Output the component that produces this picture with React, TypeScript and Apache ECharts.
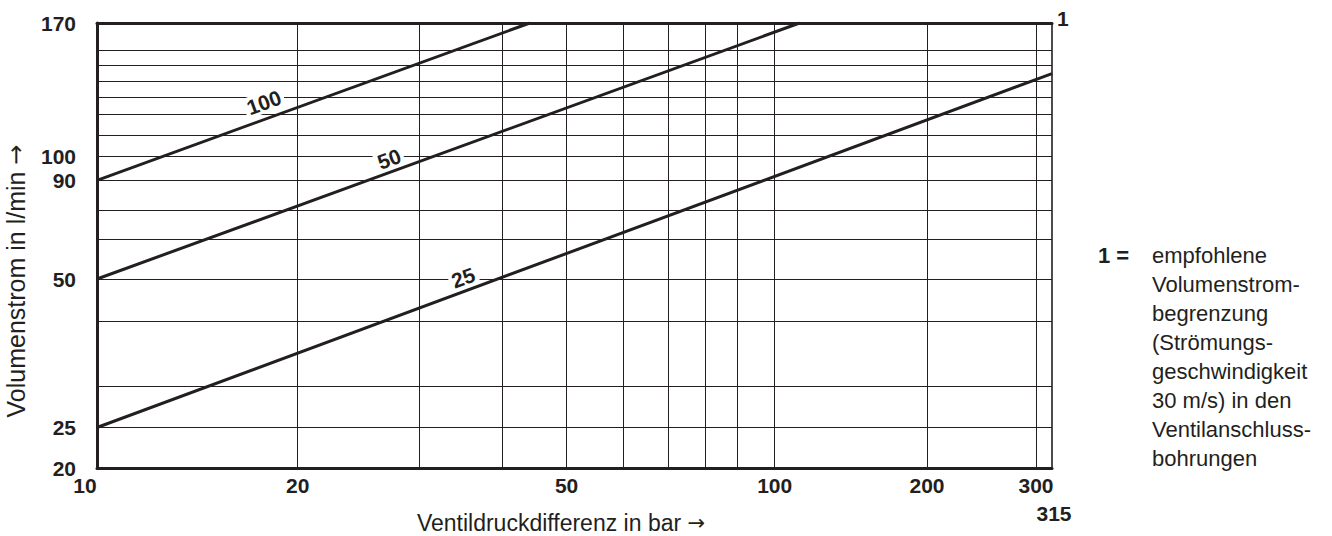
import { useEffect, useRef } from "react";
import * as echarts from "echarts";

// Scale definition of the (irregular) logarithmic grid of the diagram
const xGridValues = [10, 20, 30, 40, 50, 60, 70, 80, 90, 100, 200, 300, 315];
const xGridUnits = [0, 200.7, 322.7, 405.5, 469.6, 526.1, 571.2, 608.5, 640, 677.7, 830, 939, 955];
const yGridValues = [20, 25, 30, 40, 50, 60, 70, 90, 100, 110, 120, 130, 140, 150, 160, 170];
const yGridUnits = [0, 40.5, 82, 146.5, 189, 228.5, 258, 287.7, 311.7, 332.7, 354, 370.3, 386.3, 402.3, 418, 445];

// Tick labels
const xTickLabels = [10, 20, 50, 100, 200, 300];
const xEndLabel = 315;
const yTickLabels = [20, 25, 50, 90, 100, 170];

// Curves (nominal size): pressure difference [bar] and flow [l/min] at both ends
const curveNames = ["25", "50", "100"];
const curveDp = [
  [10, 315],
  [10, 112],
  [10, 44],
];
const curveQ = [
  [25, 145],
  [50, 170],
  [90, 170],
];
// where the curve names sit
const curveLabelDp = [34.9, 27.1, 17.8];
const curveLabelQ = [50.3, 98.8, 127];

const legendKey = "1 =";
const legendText = [
  "empfohlene",
  "Volumenstrom-",
  "begrenzung",
  "(Strömungs-",
  "geschwindigkeit",
  "30 m/s) in den",
  "Ventilanschluss-",
  "bohrungen",
];

function warp(v: number, vals: number[], units: number[]): number {
  const lv = Math.log10(v);
  for (let i = 0; i < vals.length - 1; i++) {
    const a = Math.log10(vals[i]);
    const b = Math.log10(vals[i + 1]);
    if (lv <= b || i === vals.length - 2) {
      return units[i] + ((lv - a) / (b - a)) * (units[i + 1] - units[i]);
    }
  }
  return units[units.length - 1];
}
const wx = (v: number) => warp(v, xGridValues, xGridUnits);
const wy = (v: number) => warp(v, yGridValues, yGridUnits);

function nearestLabel(val: number, units: number[], labels: number[]): number {
  let best = 0;
  for (let i = 0; i < units.length; i++) {
    if (Math.abs(units[i] - val) < Math.abs(units[best] - val)) best = i;
  }
  return labels[best];
}

const ink = "#231f20";
const numFont = "'Liberation Sans Narrow', 'Liberation Sans', Arial, sans-serif";
const textFont = "'Liberation Sans', Arial, sans-serif";
const arrowRich = { arr: { fontFamily: "'DejaVu Sans', sans-serif", fontSize: 21, fill: ink } };

export default function App() {
  const ref = useRef<HTMLDivElement>(null);

  useEffect(() => {
    if (!ref.current) return;
    const chart = echarts.init(ref.current, undefined, { renderer: "svg" });

    const xLabelUnits = xTickLabels.map(wx);
    const yLabelUnits = yTickLabels.map(wy);
    const xMax = xGridUnits[xGridUnits.length - 1];
    const yMax = yGridUnits[yGridUnits.length - 1];

    const numStyle = {
      color: ink,
      fontFamily: numFont,
      fontWeight: "bold" as const,
      fontSize: 21,
    };

    const option: any = {
      animation: false,
      grid: {
        left: 97,
        right: 280,
        top: 23,
        bottom: 68,
        containLabel: false,
        outerBoundsMode: "none",
      },
      xAxis: [
        {
          type: "value",
          min: 0,
          max: xMax,
          position: "bottom",
          axisLine: { show: true, onZero: false, lineStyle: { color: ink, width: 3 } },
          axisTick: { show: false },
          splitLine: { show: false },
          axisLabel: {
            ...numStyle,
            customValues: xLabelUnits,
            showMinLabel: true,
            showMaxLabel: true,
            margin: 6,
            lineHeight: 23,
            verticalAlign: "top",
            formatter: (v: number) => {
              const lab = nearestLabel(v, xLabelUnits, xTickLabels);
              if (lab === 10) return "{first|10}";
              return String(lab);
            },
            rich: {
              first: { ...numStyle, padding: [0, 24, 0, 0], lineHeight: 23 },
            },
          },
        },
        {
          type: "value",
          min: 0,
          max: xMax,
          position: "top",
          axisLine: { show: true, onZero: false, lineStyle: { color: ink, width: 3 } },
          axisTick: { show: false },
          axisLabel: { show: false },
          splitLine: { show: false },
        },
      ],
      yAxis: [
        {
          type: "value",
          min: 0,
          max: yMax,
          position: "left",
          axisLine: { show: true, onZero: false, lineStyle: { color: ink, width: 3 } },
          axisTick: { show: false },
          splitLine: { show: false },
          axisLabel: {
            ...numStyle,
            customValues: yLabelUnits,
            showMinLabel: true,
            showMaxLabel: true,
            margin: 21,
            formatter: (v: number) => String(nearestLabel(v, yLabelUnits, yTickLabels)),
          },
        },
        {
          type: "value",
          min: 0,
          max: yMax,
          position: "right",
          axisLine: { show: true, onZero: false, lineStyle: { color: ink, width: 1.6 } },
          axisTick: { show: false },
          axisLabel: { show: false },
          splitLine: { show: false },
        },
      ],
      series: [
        {
          type: "line",
          name: "grid",
          data: [],
          silent: true,
          z: 1,
          markLine: {
            silent: true,
            symbol: ["none", "none"],
            label: { show: false },
            emphasis: { disabled: true },
            lineStyle: { type: "solid", width: 1, color: ink },
            data: [
              ...xGridValues.slice(1, -1).map((v) => ({ xAxis: wx(v) })),
              ...yGridValues.slice(1, -1).map((v) => ({ yAxis: wy(v) })),
            ],
          },
        },
        ...curveNames.map((name, i) => ({
          type: "line",
          name,
          silent: true,
          symbol: "none",
          z: 5,
          lineStyle: { color: ink, width: 3 },
          data: curveDp[i].map((d, j) => [wx(d), wy(curveQ[i][j])]),
        })),
        {
          type: "scatter",
          name: "labels",
          silent: true,
          symbol: "circle",
          symbolSize: 0,
          itemStyle: { color: ink },
          z: 6,
          label: {
            show: true,
            position: "inside",
            formatter: "{b}",
            rotate: 20,
            backgroundColor: "#ffffff",
            padding: [0, 3],
            textBorderWidth: 0,
            opacity: 1,
            ...numStyle,
            fontSize: 21,
          },
          data: curveNames.map((name, i) => ({
            name,
            value: [wx(curveLabelDp[i]), wy(curveLabelQ[i])],
          })),
        },
      ],
      graphic: [
        {
          type: "text",
          x: 97 + wx(xEndLabel) + 2,
          y: 513,
          style: {
            text: String(xEndLabel),
            fill: ink,
            fontFamily: numFont,
            fontWeight: "bold",
            fontSize: 21,
            align: "center",
            verticalAlign: "middle",
          },
        },
        {
          type: "text",
          x: 1057,
          y: 18,
          style: {
            text: "1",
            fill: ink,
            fontFamily: numFont,
            fontWeight: "bold",
            fontSize: 21,
            verticalAlign: "middle",
          },
        },
        {
          type: "text",
          x: 561,
          y: 523,
          style: {
            text: "Ventildruckdifferenz in bar {arr|→}",
            rich: arrowRich,
            fill: ink,
            fontFamily: textFont,
            fontSize: 23,
            align: "center",
            verticalAlign: "middle",
          },
        },
        {
          type: "text",
          x: 16,
          y: 281,
          rotation: Math.PI / 2,
          style: {
            text: "Volumenstrom in l/min {arr|→}",
            rich: { arr: { fontFamily: "'DejaVu Sans', sans-serif", fontSize: 24, fill: ink } },
            fill: ink,
            fontFamily: textFont,
            fontSize: 25,
            align: "center",
            verticalAlign: "middle",
          },
        },
        {
          type: "text",
          x: 1098,
          y: 240.5,
          style: {
            text: legendKey,
            fill: ink,
            fontFamily: textFont,
            fontWeight: "bold",
            fontSize: 22,
            lineHeight: 29,
            verticalAlign: "top",
          },
        },
        {
          type: "text",
          x: 1152,
          y: 240.5,
          style: {
            text: legendText.join("\n"),
            fill: ink,
            fontFamily: textFont,
            fontSize: 22,
            lineHeight: 29,
            verticalAlign: "top",
          },
        },
      ],
    };

    chart.setOption(option);
    return () => chart.dispose();
  }, []);

  return (
    <div
      ref={ref}
      style={{ position: "fixed", left: 0, top: 0, width: 1332, height: 536, background: "#fff" }}
    />
  );
}
